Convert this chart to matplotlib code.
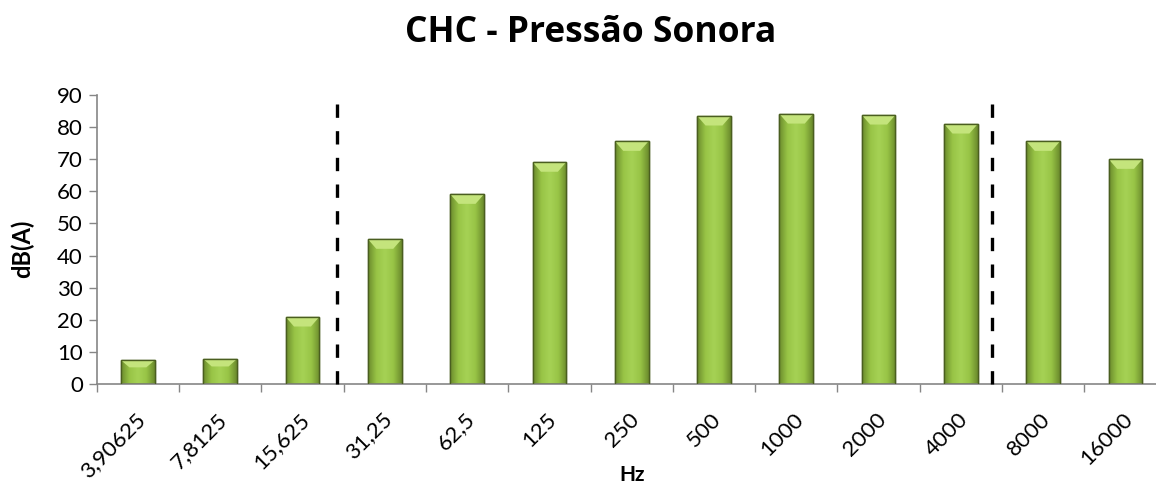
import matplotlib
matplotlib.use("Agg")
import matplotlib.pyplot as plt
import matplotlib.transforms as mtransforms
import numpy as np
from matplotlib.colors import LinearSegmentedColormap

categories = ["3,90625", "7,8125", "15,625", "31,25", "62,5", "125", "250",
              "500", "1000", "2000", "4000", "8000", "16000"]
values = [7.4, 7.8, 20.9, 45.1, 59.1, 69.1, 75.6, 83.5, 84.1, 83.8, 81.0, 75.6, 70.0]
dash_positions = [2.42, 10.38]
title = "CHC - Pressão Sonora"
xlabel = "Hz"
ylabel = "dB(A)"

plt.rcParams['font.family'] = ['Lato', 'DejaVu Sans']

W, H = 1156, 484
fig = plt.figure(figsize=(W / 100, H / 100), dpi=100)
ax = fig.add_axes([96.7 / W, 1 - 384 / H, 1070 / W, 289 / H])

x = np.arange(len(categories))
bw = 0.41
bars = ax.bar(x, values, width=bw, color="#92b843", edgecolor="#4a5e20", linewidth=1.0, zorder=2)

cmap = LinearSegmentedColormap.from_list("g", ["#6a8a2c", "#98c446", "#a6d255", "#98c446", "#6a8a2c"])
grad = np.linspace(0, 1, 256).reshape(1, -1)
for b, v in zip(bars, values):
    x0 = b.get_x()
    im = ax.imshow(grad, extent=[x0, x0 + bw, 0, v], aspect="auto", cmap=cmap,
                   origin="lower", zorder=2.5, interpolation="bicubic")
    im.set_clip_path(b)
    bevel = min(3.0, v * 0.3)
    ax.fill([x0, x0 + bw, x0 + bw * 0.75, x0 + bw * 0.25],
            [v, v, v - bevel, v - bevel], color="#c4e47c", zorder=2.6, lw=0)
    ax.bar(b.get_x() + bw / 2, v, width=bw, fill=False, edgecolor="#4a5e20", linewidth=1.0, zorder=2.7)

for dp in dash_positions:
    ax.plot([dp, dp], [0, 89.5], color="black", lw=2.4, dashes=(4, 4), zorder=3, clip_on=False)

ax.set_xlim(-0.5, len(categories) - 0.5)
ax.set_ylim(0, 90)
ax.set_yticks(np.arange(0, 91, 10))
ax.set_xticks(x)
ax.set_xticklabels(categories, rotation=45, ha="right", rotation_mode="anchor", fontsize=16)
ax.set_xticks(np.arange(-0.5, len(categories), 1), minor=True)
ax.tick_params(axis="x", which="major", length=0, pad=18)
ax.tick_params(axis="x", which="minor", length=6, color="#868686", width=1)
ax.tick_params(axis="y", length=6, color="#868686", width=1, labelsize=16, pad=4)
offset = mtransforms.ScaledTranslation(-3 / 100, 0, fig.dpi_scale_trans)
for lbl in ax.get_xticklabels():
    lbl.set_transform(lbl.get_transform() + offset)

for s in ["top", "right"]:
    ax.spines[s].set_visible(False)
for s in ["left", "bottom"]:
    ax.spines[s].set_color("#868686")
    ax.spines[s].set_linewidth(1.2)

fig.text(591 / W, 1 - 33 / H, title, ha="center", va="center", fontsize=25.5,
         fontweight="bold", family=["Open Sans", "DejaVu Sans"])
fig.text(632 / W, 1 - 475 / H, xlabel, ha="center", va="center", fontsize=15, fontweight="bold")
fig.text(22 / W, 1 - 249 / H, ylabel, ha="center", va="center", fontsize=17, fontweight="bold", rotation=90)

fig.savefig("out.png", dpi=100)
